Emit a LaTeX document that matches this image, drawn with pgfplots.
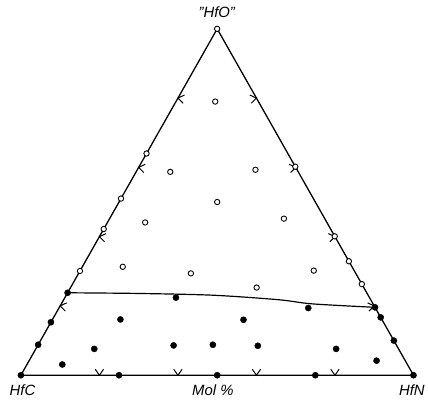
\documentclass[border=0pt]{standalone}
\usepackage{pgfplots}
\usepackage{pgfplotstable}
\pgfplotsset{compat=1.18}
\usepackage{fontspec}
\setmainfont{Liberation Sans}
\pgfdeclareplotmark{chev}{%
  \pgfpathmoveto{\pgfqpoint{\pgfplotmarksize}{0.7\pgfplotmarksize}}%
  \pgfpathlineto{\pgfpointorigin}%
  \pgfpathlineto{\pgfqpoint{\pgfplotmarksize}{-0.7\pgfplotmarksize}}%
  \pgfusepathqstroke}

% compositions in mol %: N = HfN, O = "HfO" (HfC = 100 - N - O)
\pgfplotstableread{
N O
0 0
100 0
0 100
0 0
}\tridata

\pgfplotstableread{
N O
0 100
10 79
0 64
8.7 58.7
0 51
25 50
0 42.2
9.6 44.1
0 30.1
10.3 31.3
28.6 29.4
30.1 59.3
39.8 60.2
44.4 45.2
59.9 40.1
67.1 32.9
59.5 30.2
73.7 26.3
47.4 25.3
}\opendata

\pgfplotstableread{
N O
0 23.8
28.3 22.4
0 15.3
17.3 16.1
0 8.8
14.9 7.6
34.6 8.6
44.5 8.8
9.0 3.1
0 0
25 0
63.5 19.4
48.7 16.0
56.1 8.5
76.5 7.6
88.5 4.2
50 0
75 0
100 0
80.4 19.6
83.3 16.7
90 10
}\filleddata

\pgfplotstableread{
N O
0 23.8
18.3 23.6
37.3 23.1
54.7 21.8
63.9 20.6
80.4 19.6
}\boundary

\pgfplotstableread{
N O
20 0
40 0
60 0
80 0
}\chevbottom

\pgfplotstableread{
N O
0 20
0 40
0 60
0 80
}\chevleft

\pgfplotstableread{
N O
80 20
60 40
40 60
20 80
}\chevright

\begin{document}
\begin{tikzpicture}
\begin{axis}[width=428bp,height=405bp,scale only axis,hide axis,
  xmin=-5.32,xmax=103.04,ymin=-7.89,ymax=108.32,clip=false]
\draw[draw=none] (rel axis cs:0,0) rectangle (rel axis cs:1,1);
\addplot[black, line width=1.3pt, line join=round, no marks]
  table[x expr=\thisrow{N}+0.5*\thisrow{O}, y=O] {\tridata};
\addplot[black, line width=1.2pt, smooth, no marks]
  table[x expr=\thisrow{N}+0.5*\thisrow{O}, y=O] {\boundary};
\addplot[only marks, mark=chev, mark size=6bp, mark options={black, line width=1pt, rotate=90}]
  table[x expr=\thisrow{N}+0.5*\thisrow{O}, y=O] {\chevbottom};
\addplot[only marks, mark=chev, mark size=6bp, mark options={black, line width=1pt, rotate=-10}]
  table[x expr=\thisrow{N}+0.5*\thisrow{O}, y=O] {\chevleft};
\addplot[only marks, mark=chev, mark size=6bp, mark options={black, line width=1pt, rotate=190}]
  table[x expr=\thisrow{N}+0.5*\thisrow{O}, y=O] {\chevright};
\addplot[only marks, mark=*, mark size=2.7bp, mark options={draw=black, fill=white, line width=0.9pt}]
  table[x expr=\thisrow{N}+0.5*\thisrow{O}, y=O] {\opendata};
\addplot[only marks, mark=*, mark size=3.1bp, mark options={draw=black, fill=black}]
  table[x expr=\thisrow{N}+0.5*\thisrow{O}, y=O] {\filleddata};
\node[font=\fontsize{15}{17}\selectfont\itshape] at (axis cs:0.4,-4.4) {HfC};
\node[font=\fontsize{15}{17}\selectfont\itshape] at (axis cs:48.9,-4.3) {Mol \%};
\node[font=\fontsize{15}{17}\selectfont\itshape] at (axis cs:99.6,-4.4) {HfN};
\node[font=\fontsize{15}{17}\selectfont\itshape] at (axis cs:49.9,104.9) {\symbol{34}HfO\symbol{34}};
\end{axis}
\end{tikzpicture}
\end{document}
